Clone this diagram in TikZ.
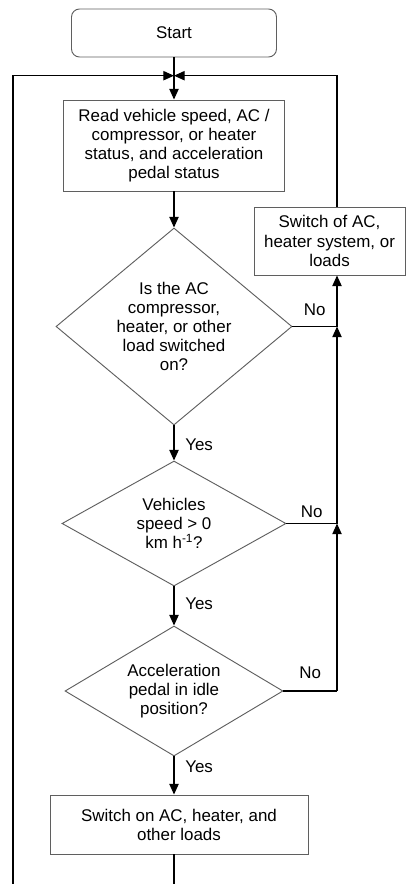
\documentclass[tikz,border=0pt]{standalone}
\usepackage{fontspec}
\setmainfont{Liberation Sans}
\usepackage{tikz}
\usepackage{xcolor}
\usetikzlibrary{arrows.meta,shapes.geometric}
\definecolor{edgegray}{RGB}{95,95,95}
\newcommand{\flowfont}{\fontsize{12.7}{14.3}\selectfont}

\begin{document}
\begin{tikzpicture}[x=0.75pt, y=-0.75pt, >={Triangle[length=8pt,width=7pt]},
    box/.style={draw=edgegray, line width=0.7pt, align=center, inner sep=2pt, font=\flowfont},
    decision/.style={draw=edgegray, line width=0.7pt, diamond, align=center, inner sep=0pt, font=\flowfont},
    link/.style={line width=0.9pt},
    flow/.style={->, line width=0.9pt},
    lbl/.style={font=\flowfont, inner sep=1pt}]
    \useasboundingbox (0,0) rectangle (406,884);

    % Boxes
    \node[box, rounded corners=6pt, minimum width=153.75pt, minimum height=36pt] (start) at (174,33) {Start};
    \node[box, minimum width=165.75pt, minimum height=68.25pt] (read) at (174,145.5)
        {Read vehicle speed, AC /\\compressor, or heater\\status, and acceleration\\pedal status};
    \node[box, minimum width=113.25pt, minimum height=51pt] (switchoff) at (329.5,241)
        {Switch of AC,\\heater system, or\\loads};
    \node[box, minimum width=193.5pt, minimum height=44.25pt] (load) at (179,824.5)
        {Switch on AC, heater, and\\other loads};

    % Decisions
    \node[decision, shape aspect=1.2, minimum width=177pt, minimum height=147.75pt] (loadon) at (174,326.5)
        {Is the AC\\compressor,\\heater, or other\\load switched\\on?};
    \node[decision, shape aspect=1.79, minimum width=168pt, minimum height=93.75pt] (speed) at (174,523.5)
        {Vehicles\\speed > 0\\km h\textsuperscript{-1}?};
    \node[decision, shape aspect=1.68, minimum width=163.5pt, minimum height=97.5pt] (pedal) at (174,691)
        {Acceleration\\pedal in idle\\position?};

    % Junctions of the loop
    \coordinate (jtop) at (174,75.7);
    \coordinate (j1) at (337,326.5);
    \coordinate (j2) at (337,523.5);
    \coordinate (j3) at (337,691);
    \coordinate (lbot) at (13,884);
    \coordinate (bbot) at (174,884);

    % Main line
    \draw[link] (start.south) -- (jtop);
    \draw[flow] (jtop) -- (read.north);
    \draw[flow] (read.south) -- (loadon.north);
    \draw[flow] (loadon.south) -- node[lbl, right=7pt, pos=0.55] {Yes} (speed.north);
    \draw[flow] (speed.south) -- node[lbl, right=7pt, pos=0.45] {Yes} (pedal.north);
    \draw[flow] (pedal.south) -- node[lbl, right=7pt, pos=0.26] {Yes} (pedal.south |- load.north);
    \draw[link] (load.south -| bbot) -- (bbot);

    % No branches
    \draw[link] (loadon.east) -- node[lbl, above=7pt] {No} (j1);
    \draw[link] (speed.east) -- node[lbl, above=3pt] {No} (j2);
    \draw[link] (pedal.east) -- node[lbl, above=8pt] {No} (j3);
    \draw[flow] (j3) -- (j2);
    \draw[flow] (j2) -- (j1);
    \draw[flow] (j1) -- (j1 |- switchoff.south);

    % Loops back to the top
    \draw[flow] (j1 |- switchoff.north) |- (jtop);
    \draw[flow] (lbot) |- (jtop);
\end{tikzpicture}
\end{document}
